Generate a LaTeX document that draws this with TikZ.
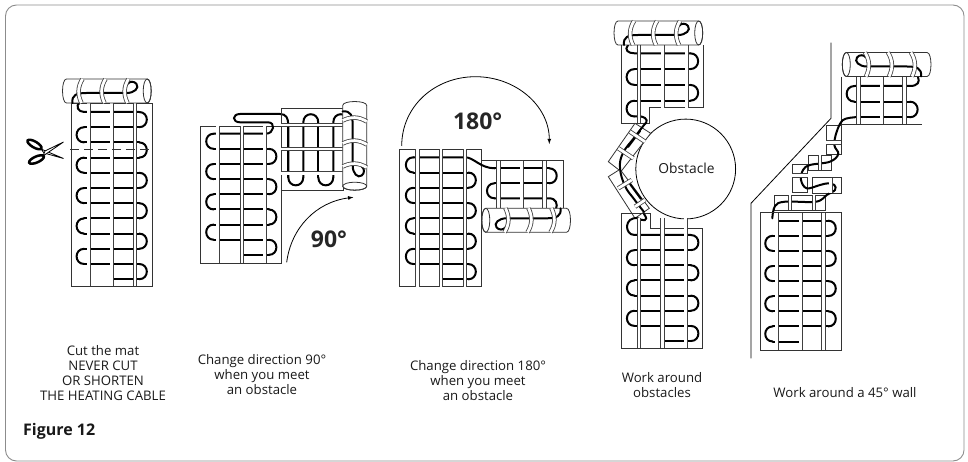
\documentclass[tikz,border=0pt]{standalone}
\usepackage{fontspec}
\setmainfont{Open Sans}
\usetikzlibrary{arrows,calc,positioning}
\tikzset{
	wire/.style={line width=2pt,line cap=round},
	matline/.style={line width=0.8pt,draw=black!80},
	matstrip/.style={draw=black!75,double=white,double distance=2.8pt,line width=0.8pt},
	caption/.style={font=\fontsize{13.2}{15}\selectfont,align=center,text=black!90},
	angle/.style={font=\fontsize{23}{26}\selectfont\bfseries,text=black!85},
}
\newcommand{\matwire}[6]{
	\pgfmathtruncatemacro{\lastloop}{#5-2}
	\foreach \row in {0,...,\lastloop}{
		\pgfmathsetmacro{\ya}{#3+\row*#4}
		\pgfmathsetmacro{\yb}{\ya+#4}
		\pgfmathsetmacro{\xe}{ifthenelse(mod(\row+#6,2)==0,#1,#2)}
		\pgfmathsetmacro{\xc}{\xe+ifthenelse(mod(\row+#6,2)==0,-1,1)*0.667*#4}
		\draw[wire] (\xe,\ya) .. controls (\xc,\ya) and (\xc,\yb) .. (\xe,\yb);
		\ifnum\row>0
			\draw[wire] (#1,\ya) -- (#2,\ya);
		\fi
	}
}
\newcommand{\matroll}[1]{
	\begin{scope}[#1]
		\draw[matline,fill=white] (4,0) .. controls (-1.3,0) and (-1.3,24) .. (4,24) -- (84.7,24) .. controls (90,24) and (90,0) .. (84.7,0) -- cycle;
		\draw[matline] (84.7,12) ellipse [x radius=4pt,y radius=12pt];
		\draw[wire] (10,24) .. controls (9,16) and (14,14) .. (24,14) -- (64,14) .. controls (72,14) and (77,9) .. (74,5) .. controls (72,2) and (67,2) .. (65,5);
		\foreach \xb in {20,43,66}{
			\draw[matstrip] (\xb,0) .. controls (\xb-5,8) and (\xb-5,16) .. (\xb-1,24);
		}
	\end{scope}
}
\begin{document}
\begin{tikzpicture}[x=1pt,y=-1pt]
	\useasboundingbox (0,0) rectangle (968,462);
	\draw[black!45,line width=0.9pt,rounded corners=11pt] (5.5,5) rectangle (964,461);

	\draw[matline] (71,103) rectangle (152,286);
	\matwire{84.2}{139.2}{112}{15.2}{12}{1}
	\draw[wire] (80,102) .. controls (75,106) and (78,112) .. (84.2,112) -- (139.2,112);
	\draw[wire] (111.7,279.2) -- (139.2,279.2);
	\foreach \xs in {88.7,111.7,135}{
		\draw[matstrip] (\xs,103) -- (\xs,286);
	}
	\matroll{shift={(62.5,79)}}
	\draw[matline,dash pattern=on 9pt off 5pt] (70,149.3) -- (153,149.3);
	\draw[line width=2.5pt,rotate around={-30:(34.5,144.5)}] (34.5,144.5) ellipse [x radius=8pt,y radius=3pt];
	\draw[line width=2.5pt,rotate around={24:(36.5,159.5)}] (36.5,159.5) ellipse [x radius=8pt,y radius=3pt];
	\draw[line width=0.8pt,fill=white] (41,149) -- (63.5,158.5) -- (44,153) -- cycle;
	\draw[line width=0.8pt,fill=white] (43,156) -- (63.5,142) -- (45,151) -- cycle;

	\draw[matline] (200,126) rectangle (281.3,263);
	\matwire{213.8}{268.8}{133.7}{15.15}{9}{0}
	\draw[wire] (213.8,133.7) -- (266,133.7) .. controls (274,133.7) and (276,122.3) .. (268,122.3) -- (240,122.3) .. controls (232,122.3) and (232,114) .. (240,114) -- (280,114) .. controls (286,114) and (288.3,118) .. (288.3,125) -- (288.3,177.3);
	\draw[wire] (242,255) -- (268.8,255);
	\foreach \xs in {217.7,242,264.7}{
		\draw[matstrip] (\xs,126) -- (\xs,263);
	}
	\draw[matline] (281.3,108.7) rectangle (343,190);
	\foreach \xs in {288.3,318.3}{
		\draw[wire] (\xs,177.3) .. controls (\xs,188) and (\xs+15,188) .. (\xs+15,177.3);
		\draw[wire] (\xs+15,177.3) -- (\xs+15,122.4) .. controls (\xs+15,111.5) and (\xs+30,111.5) .. (\xs+30,122.4);
	}
	\draw[wire] (288.3,125) -- (288.3,177.3);
	\draw[wire] (318.3,122.4) -- (318.3,177.3);
	\draw[wire] (348.3,122.4) -- (348.3,177.3);
	\foreach \ys in {125,149,173.3}{
		\draw[matstrip] (281.3,\ys) -- (343,\ys);
	}
	\matroll{shift={(366.7,101.5)},rotate=-90}
	\draw[line width=0.8pt,-latex] (286.7,262.3) .. controls (291,228) and (316,202) .. (353.3,197.3);
	\node[angle] (ninety) at (329,239) {90°};

	\draw[matline] (399.3,149.3) rectangle (481,286.7);
	\matwire{413.5}{468.2}{157.3}{15.25}{9}{0}
	\draw[wire] (413.5,157.3) -- (465,157.3) .. controls (474,157.3) and (480,168.3) .. (495,168.3);
	\draw[wire] (441,279.3) -- (468.2,279.3);
	\foreach \xs in {417.3,441,465}{
		\draw[matstrip] (\xs,149.3) -- (\xs,286.7);
	}
	\draw[matline] (481,160.7) -- (563.3,160.7) -- (563.3,208.3);
	\matwire{494.5}{549.2}{168.3}{15}{3}{1}
	\draw[wire] (494.5,168.3) -- (549.2,168.3);
	\draw[wire] (494.5,198.3) -- (549.2,198.3) .. controls (556,198.3) and (558,204) .. (556,209);
	\foreach \xs in {498.3,521.7,544.3}{
		\draw[matstrip] (\xs,160.7) -- (\xs,208.3);
	}
	\matroll{shift={(570.5,232.3)},rotate=180}
	\draw[line width=0.8pt,-latex] (401.7,146) .. controls (401.7,106) and (435,76.7) .. (475.5,76.7) .. controls (516,76.7) and (549.3,106) .. (549.3,144);
	\node[angle] (oneeighty) at (477.7,121.7) {180°};

	\draw[matline] (621,45) -- (621,123.3) -- (649.3,123.3) -- (649.3,107.7) -- (703.3,107.7) -- (703.3,45);
	\matwire{634.5}{690.2}{53.3}{15.8}{5}{1}
	\draw[wire] (628,45) .. controls (624,50) and (628,53.3) .. (634.5,53.3) -- (690.2,53.3);
	\draw[wire] (634.5,116.5) -- (641,116.5) .. controls (648,118) and (648,122) .. (644,125);
	\foreach \xs in {639,662.7,686.7}{
		\draw[matstrip] (\xs,45) -- (\xs,107.7);
	}
	\draw[matstrip] (639,107.7) -- (639,123.3);
	\matroll{shift={(614,21)}}
	\draw[line width=0.8pt] (685.7,169) circle [radius=49.9pt];
	\node[font=\fontsize{13.8}{16}\selectfont,text=black!90] (obstacle) at (686.5,168.3) {Obstacle};
	\draw[matline,fill=white] (635,123.3) -- (650.7,133.3) -- (621,171.5) -- (608.3,161.7) -- cycle;
	\draw[matline,fill=white] (608.3,176.7) -- (620,169.3) -- (649.3,208.3) -- (635,218.3) -- cycle;
	\draw[wire] plot[smooth,tension=0.7] coordinates {(644,125) (634,138) (623,153) (620,168) (625,186) (634,199) (644,212)};
	\draw[wire] (640,131) -- (628,147);
	\draw[wire] (630,184) -- (641,199);
	\draw[matstrip] (630,131.7) -- (645,141.7);
	\draw[matstrip] (618.3,148.3) -- (633.3,158.3);
	\draw[matstrip] (618.3,188.3) -- (631.7,180);
	\draw[matstrip] (635,206.7) -- (645,200);
	\draw[matline] (621.7,213.3) -- (650,213.3) -- (650,228.3) -- (702.7,228.3) -- (702.7,348.3) -- (621.7,348.3) -- cycle;
	\matwire{634.5}{690.8}{235}{15.15}{8}{1}
	\draw[wire] (644,214) .. controls (650,222) and (642,221) .. (638,218.3) .. controls (624,216) and (624,235) .. (634.5,235) -- (690.8,235);
	\draw[wire] (662.3,341) -- (690.8,341);
	\foreach \xs in {639,662.3,685.7}{
		\draw[matstrip] (\xs,218) -- (\xs,348.3);
	}

	\draw[line width=0.8pt] (831,42.7) -- (831,118.3) -- (751,203.3) -- (751,358.3);
	\draw[matline] (841.7,77) -- (841.7,124.3) -- (922,124.3);
	\matwire{854.5}{909.8}{86}{15.65}{3}{0}
	\draw[wire] (854.5,86) -- (909.8,86) .. controls (918,86) and (920,82) .. (918,77);
	\draw[wire] (909.8,117.3) -- (855,117.3);
	\foreach \xs in {858.3,881.7,904.3}{
		\draw[matstrip] (\xs,77) -- (\xs,124.3);
	}
	\matroll{shift={(931,52.5)},xscale=-1}
	\draw[matline,fill=white] (826,125) rectangle (841,154);
	\draw[matline,fill=white] (808.3,155) rectangle (831.7,170);
	\draw[matline,fill=white] (792.3,164.3) rectangle (807.7,192.3);
	\draw[matline,fill=white] (812.7,177.7) rectangle (841.7,193.3);
	\draw[matline,fill=white] (774,195) rectangle (825.7,210);
	\draw[wire] plot[smooth,tension=0.6] coordinates {(855,117.3) (843,120) (836.7,131.7) (834.3,145) (838.3,154) (830,161.7) (810,165) (803,170) (801,180) (806.7,188.3) (820,185) (828,183.3) (834.3,185) (835,190) (826.7,195) (816,201.7) (785,201.7) (775,206) (772.3,218.3)};
	\draw[matstrip] (826,142.7) -- (841,142.7);
	\draw[matstrip] (820,155) -- (820,170);
	\draw[matstrip] (792.3,175.7) -- (807.7,175.7);
	\draw[matstrip] (830.7,177.7) -- (830.7,193.3);
	\draw[matstrip] (790,195) -- (790,210);
	\draw[matstrip] (814,195) -- (814,210);
	\draw[matline] (760,212.7) rectangle (841.7,350);
	\matwire{772.8}{828.2}{220.7}{15.1}{9}{1}
	\draw[wire] (776.7,220.7) -- (828.2,220.7);
	\draw[wire] (772.8,341.5) -- (800.7,341.5);
	\foreach \xs in {776.7,800.7,823.3}{
		\draw[matstrip] (\xs,212.7) -- (\xs,350);
	}

	\node[caption] (cutmat) at (103,373.5) {Cut the mat\\NEVER CUT\\OR SHORTEN\\THE HEATING CABLE};
	\node[caption] (turnninety) at (262,375) {Change direction 90°\\when you meet\\an obstacle};
	\node[caption] (turnoneeighty) at (478,381) {Change direction 180°\\when you meet\\an obstacle};
	\node[caption] (workaround) at (662,385) {Work around\\obstacles};
	\node[caption] (workwall) at (845,393) {Work around a 45° wall};
	\node[font=\fontsize{16}{18}\selectfont\bfseries,text=black!90,anchor=west,inner sep=0pt] (figlabel) at (23,431) {Figure 12};
\end{tikzpicture}
\end{document}
